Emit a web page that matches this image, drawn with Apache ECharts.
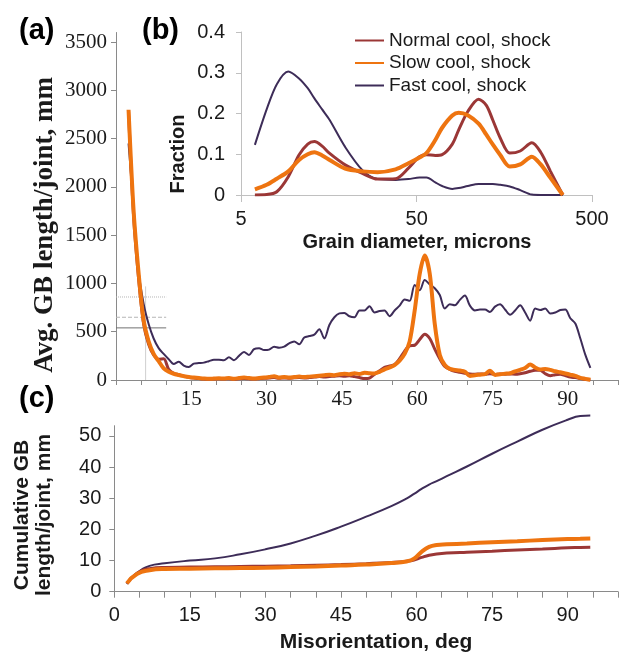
<!DOCTYPE html>
<html>
<head>
<meta charset="utf-8">
<script src="https://cdn.jsdelivr.net/npm/echarts@6/dist/echarts.min.js"></script>
<style>
  html, body { margin: 0; padding: 0; background: #ffffff; }
  #chart { width: 621px; height: 656px; }
</style>
</head>
<body>
<div id="chart"></div>
<script>
// Misorientation bins (deg) for the average GB length panel
const angles = [
  2.5, 3.5, 4.5, 5.5, 6.5, 7.5, 8.5, 9.5, 10.5, 11.5,
  12.5, 13.5, 14.5, 15.5, 16.5, 17.5, 18.5, 19.5, 20.5, 21.5,
  22.5, 23.5, 24.5, 25.5, 26.5, 27.5, 28.5, 29.5, 30.5, 31.5,
  32.5, 33.5, 34.5, 35.5, 36.5, 37.5, 38.5, 39.5, 40.5, 41.5,
  42.5, 43.5, 44.5, 45.5, 46.5, 47.5, 48.5, 49.5, 50.5, 51.5,
  52.5, 53.5, 54.5, 55.5, 56.5, 57.5, 58.5, 59.5, 60.5, 61.5,
  62.5, 63.5, 64.5, 65.5, 66.5, 67.5, 68.5, 69.5, 70.5, 71.5,
  72.5, 73.5, 74.5, 75.5, 76.5, 77.5, 78.5, 79.5, 80.5, 81.5,
  82.5, 83.5, 84.5, 85.5, 86.5, 87.5, 88.5, 89.5, 90.5, 91.5,
  92.5, 93.5, 94.5
];

// Avg. GB length/joint (mm)
const normalAvg = [
  2780, 1700, 1050, 580, 370, 260, 215, 220, 110, 70,
  55, 40, 28, 20, 15, 10, 8, 10, 12, 10,
  14, 8, 12, 15, 12, 10, 14, 18, 20, 25,
  18, 22, 18, 22, 25, 22, 25, 30, 35, 30,
  35, 40, 45, 40, 45, 35, 25, 15, 20, 60,
  95, 130, 145, 160, 220, 300, 355, 360, 420, 475,
  430, 320, 220, 140, 110, 90, 80, 70, 62, 60,
  62, 60, 65, 58, 62, 60, 62, 60, 65, 75,
  90, 100, 100, 65, 45, 55, 60, 45, 30, 25,
  15, 5, 0
];
const slowAvg = [
  2800, 1760, 1110, 620, 400, 270, 195, 120, 85, 65,
  52, 40, 30, 25, 20, 15, 12, 15, 18, 15,
  20, 12, 20, 25, 20, 15, 20, 25, 30, 40,
  25, 30, 25, 30, 35, 30, 35, 40, 45, 50,
  55, 50, 60, 65, 60, 70, 62, 75, 70, 68,
  85, 110, 130, 155, 200, 270, 400, 720, 1100, 1290,
  1100, 580, 260, 155, 115, 105, 98, 85, 42, 50,
  55, 60, 95, 52, 60, 65, 70, 90, 105, 125,
  160, 130, 110, 115, 105, 90, 80, 68, 55, 42,
  22, 12, 2
];
const fastAvg = [
  2450, 1800, 1130, 790, 580, 430, 330, 270, 215, 165,
  190, 150, 135, 170, 175, 180, 195, 210, 210, 205,
  235, 205, 250, 290, 260, 320, 330, 310, 315, 345,
  335, 345, 380, 400, 370, 440, 455, 470, 525, 430,
  570, 650, 690, 695, 660, 650, 720, 720, 765, 700,
  715, 720, 660, 720, 770, 835, 820, 985, 930, 1035,
  990, 950, 880, 740, 785, 775, 830, 875, 770, 720,
  730, 730, 705, 760, 785, 730, 675, 720, 775, 700,
  615, 740, 725, 740, 690, 700, 725, 730, 640, 585,
  430, 260, 125
];

// Grain size distribution (inset), diameters in microns
const diameters = [6, 7, 8, 9.3, 10.7, 12, 13.1, 14.5, 16, 19.6, 24.6, 30, 38, 45, 52, 57, 64, 70, 80, 87, 98, 113, 125, 136, 150, 170, 195, 227, 255, 290, 341];
const normalFrac = [0, 0.001, 0.008, 0.045, 0.098, 0.125, 0.131, 0.12, 0.102, 0.074, 0.053, 0.039, 0.040, 0.066, 0.094, 0.099, 0.097, 0.099, 0.125, 0.16, 0.205, 0.235, 0.22, 0.184, 0.14, 0.103, 0.108, 0.128, 0.105, 0.058, 0];
const slowFrac   = [0.014, 0.025, 0.040, 0.058, 0.086, 0.100, 0.105, 0.097, 0.086, 0.065, 0.058, 0.056, 0.063, 0.078, 0.092, 0.103, 0.135, 0.165, 0.195, 0.202, 0.196, 0.175, 0.148, 0.124, 0.098, 0.070, 0.075, 0.094, 0.075, 0.042, 0];
const fastFrac   = [0.123, 0.21, 0.272, 0.303, 0.286, 0.262, 0.237, 0.21, 0.184, 0.118, 0.061, 0.039, 0.037, 0.039, 0.043, 0.043, 0.031, 0.022, 0.015, 0.017, 0.022, 0.027, 0.027, 0.027, 0.025, 0.021, 0.012, 0.001, 0, 0, 0];

// Cumulative GB length/joint (mm)
const cumAngles = [2.5, 4.5, 7, 10, 15, 20, 25, 30, 35, 40, 45, 50, 55, 58, 59.5, 61, 62.5, 64, 66, 70, 75, 80, 85, 90, 92.5, 94.5];
const normalCum = [2.6, 5.9, 7.4, 7.8, 7.9, 8.0, 8.1, 8.2, 8.3, 8.5, 8.7, 9.0, 9.4, 9.8, 10.2, 11.0, 11.7, 12.1, 12.4, 12.7, 13.0, 13.4, 13.7, 14.1, 14.2, 14.3];
const slowCum   = [2.7, 5.7, 6.9, 7.3, 7.4, 7.5, 7.6, 7.7, 7.9, 8.1, 8.4, 8.7, 9.2, 9.7, 10.6, 12.8, 14.4, 15.0, 15.2, 15.5, 15.9, 16.2, 16.6, 16.9, 17.0, 17.1];
const fastCum   = [2.5, 6.0, 8.3, 9.1, 10.0, 10.7, 12.0, 13.6, 15.5, 18.0, 20.9, 24.1, 27.5, 29.9, 31.4, 33.0, 34.4, 35.5, 37.1, 40.2, 44.3, 48.2, 52.0, 55.2, 56.4, 56.6];

// Guide marks near the low-angle end of panel (a)
const guideLevels = [860, 650, 540];
const guideAngle = [0, 10];
const guideVertical = [[5.9, 0], [5.9, 970]];

const seriesNames = ['Normal cool, shock', 'Slow cool, shock', 'Fast cool, shock'];

const COLORS = { normal: '#9b3736', slow: '#ee7410', fast: '#3d2c58' };
const SERIF = '"Liberation Serif", "DejaVu Serif", serif';
const SANS = '"Liberation Sans", Arial, sans-serif';
const TEXT = '#1a1a1a';

function zip(xs, ys) { return xs.map((x, i) => [x, ys[i]]); }

function lineSeries(name, xi, data, color, width, z, smooth, extra) {
  return Object.assign({
    name: name, type: 'line', xAxisIndex: xi, yAxisIndex: xi,
    data: data, symbol: 'none', smooth: smooth, z: z,
    lineStyle: { color: color, width: width },
    itemStyle: { color: color },
    emphasis: { disabled: true }
  }, extra || {});
}

function guideSeries(data, type, color) {
  return {
    type: 'line', xAxisIndex: 0, yAxisIndex: 0, data: data, symbol: 'none',
    silent: true, z: 1,
    lineStyle: { color: color, width: 1, type: type },
    emphasis: { disabled: true }
  };
}

const chart = echarts.init(document.getElementById('chart'), null, { renderer: 'canvas' });

const option = {
  animation: false,
  backgroundColor: '#ffffff',
  grid: [
    { left: 116, top: 32.5, width: 505, height: 347.5 },
    { left: 241, top: 32, width: 351, height: 163 },
    { left: 114.3, top: 425.7, width: 508, height: 166 }
  ],
  legend: {
    data: seriesNames,
    orient: 'vertical',
    left: 354, top: 31,
    itemWidth: 29, itemHeight: 12, itemGap: 3.5,
    padding: 0,
    itemStyle: { opacity: 0 },
    textStyle: { fontFamily: SANS, fontSize: 19, color: TEXT }
  },
  xAxis: [
    {
      gridIndex: 0, type: 'value', min: 0, max: 100, interval: 5,
      axisLine: { lineStyle: { color: '#8a8a8a', width: 1 } },
      axisTick: { show: true, length: 5, lineStyle: { color: '#8a8a8a' } },
      axisLabel: {
        margin: 9, fontFamily: SERIF, fontSize: 21, color: TEXT,
        formatter: v => (v > 0 && v < 100 && v % 15 === 0) ? String(v) : ''
      },
      splitLine: { show: false }
    },
    {
      gridIndex: 1, type: 'log', logBase: 10, min: 5, max: 500, interval: 1,
      axisLine: { lineStyle: { color: '#c0c0c0', width: 1 } },
      axisTick: { show: true, length: 7, lineStyle: { color: '#c0c0c0' } },
      axisLabel: {
        margin: 14, fontFamily: SANS, fontSize: 20, color: TEXT,
        formatter: v => String(Math.round(v))
      },
      splitLine: { show: false },
      minorTick: { show: false }
    },
    {
      gridIndex: 2, type: 'value', min: 0, max: 100, interval: 5,
      axisLine: { lineStyle: { color: '#8a8a8a', width: 1 } },
      axisTick: { show: true, length: 6, lineStyle: { color: '#8a8a8a' } },
      axisLabel: {
        margin: 14, fontFamily: SANS, fontSize: 20, color: TEXT,
        formatter: v => (v < 100 && v % 15 === 0) ? String(v) : ''
      },
      splitLine: { show: false }
    }
  ],
  yAxis: [
    {
      gridIndex: 0, type: 'value', min: 0, max: 3600, interval: 500,
      axisLine: { show: true, lineStyle: { color: '#8a8a8a', width: 1 } },
      axisTick: { show: true, length: 5, lineStyle: { color: '#8a8a8a' } },
      axisLabel: {
        margin: 9, fontFamily: SERIF, fontSize: 21, color: TEXT, showMaxLabel: false,
        formatter: v => String(v)
      },
      splitLine: { show: false }
    },
    {
      gridIndex: 1, type: 'value', min: 0, max: 0.4, interval: 0.1,
      axisLine: { show: true, lineStyle: { color: '#c0c0c0', width: 1 } },
      axisTick: { show: true, length: 5, lineStyle: { color: '#c0c0c0' } },
      axisLabel: { margin: 16, fontFamily: SANS, fontSize: 20, color: TEXT },
      splitLine: { show: false }
    },
    {
      gridIndex: 2, type: 'value', min: 0, max: 53.3, interval: 10,
      axisLine: { show: true, lineStyle: { color: '#8a8a8a', width: 1 } },
      axisTick: { show: true, length: 5, lineStyle: { color: '#8a8a8a' } },
      axisLabel: { margin: 13, fontFamily: SANS, fontSize: 20, color: TEXT, showMaxLabel: false },
      splitLine: { show: false }
    }
  ],
  series: [
    // (a) average GB length per joint
    guideSeries(guideAngle.map(x => [x, guideLevels[0]]), 'dotted', '#b5b5b5'),
    guideSeries(guideAngle.map(x => [x, guideLevels[1]]), 'dashed', '#b5b5b5'),
    guideSeries(guideAngle.map(x => [x, guideLevels[2]]), 'solid', '#707070'),
    guideSeries(guideVertical, 'solid', '#cfcfcf'),
    lineSeries(seriesNames[2], 0, zip(angles, fastAvg), COLORS.fast, 2, 3, 0.3),
    lineSeries(seriesNames[0], 0, zip(angles, normalAvg), COLORS.normal, 3, 4, 0.3),
    lineSeries(seriesNames[1], 0, zip(angles, slowAvg), COLORS.slow, 4, 5, 0.3),
    // (b) grain diameter distribution
    lineSeries(seriesNames[2], 1, zip(diameters, fastFrac), COLORS.fast, 2, 6, 0.3),
    lineSeries(seriesNames[0], 1, zip(diameters, normalFrac), COLORS.normal, 3, 7, 0.3),
    lineSeries(seriesNames[1], 1, zip(diameters, slowFrac), COLORS.slow, 4, 8, 0.3),
    // (c) cumulative GB length per joint
    lineSeries(seriesNames[2], 2, zip(cumAngles, fastCum), COLORS.fast, 2, 3, 0.5, { clip: false }),
    lineSeries(seriesNames[0], 2, zip(cumAngles, normalCum), COLORS.normal, 3, 4, 0.5),
    lineSeries(seriesNames[1], 2, zip(cumAngles, slowCum), COLORS.slow, 4, 5, 0.5)
  ],
  graphic: [
    { type: 'text', left: 19, top: 16, z: 100,
      style: { text: '(a)', font: 'bold 29px ' + SANS, fill: '#000' } },
    { type: 'text', left: 142, top: 16, z: 100,
      style: { text: '(b)', font: 'bold 29px ' + SANS, fill: '#000' } },
    { type: 'text', left: 19, top: 384, z: 100,
      style: { text: '(c)', font: 'bold 29px ' + SANS, fill: '#000' } },
    { type: 'text', x: 45, y: 225, rotation: Math.PI / 2, z: 100,
      style: { text: 'Avg. GB length/joint, mm', font: 'bold 27px ' + SERIF, fill: TEXT,
               align: 'center', verticalAlign: 'middle' } },
    { type: 'text', x: 178, y: 154, rotation: Math.PI / 2, z: 100,
      style: { text: 'Fraction', font: 'bold 20px ' + SANS, fill: TEXT,
               align: 'center', verticalAlign: 'middle' } },
    { type: 'text', x: 417, y: 242, z: 100,
      style: { text: 'Grain diameter, microns', font: 'bold 20px ' + SANS, fill: TEXT,
               align: 'center', verticalAlign: 'middle' } },
    { type: 'text', x: 33, y: 515, rotation: Math.PI / 2, z: 100,
      style: { text: 'Cumulative GB\nlength/joint, mm', font: 'bold 21px ' + SANS, fill: TEXT,
               lineHeight: 22, align: 'center', verticalAlign: 'middle' } },
    { type: 'text', x: 376, y: 642, z: 100,
      style: { text: 'Misorientation, deg', font: 'bold 21px ' + SANS, fill: TEXT,
               align: 'center', verticalAlign: 'middle' } }
  ]
};

chart.setOption(option);
</script>
</body>
</html>
